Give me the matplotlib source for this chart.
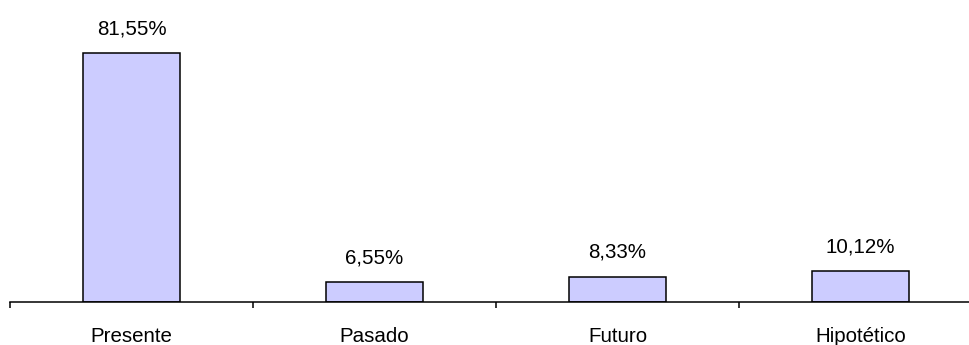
#!/usr/bin/env python3
import matplotlib.pyplot as plt
import numpy as np

categories = ['Presente', 'Pasado', 'Futuro', 'Hipotético']
values = [81.55, 6.55, 8.33, 10.12]
labels = ['81,55%', '6,55%', '8,33%', '10,12%']


def main():
    plt.rcParams['font.family'] = ['Liberation Sans', 'DejaVu Sans']
    fig = plt.figure(figsize=(9.7, 3.45), dpi=100)
    # axes: left edge at x=10px, baseline at y=302px
    ax = fig.add_axes([10 / 970, 43 / 345, 959 / 970, 275 / 345])

    x = np.arange(len(categories))
    ax.bar(x, values, width=0.4, color='#ccccff', edgecolor='black', linewidth=1.1)

    for xi, v, lab in zip(x, values, labels):
        ax.annotate(lab, (xi, v), xytext=(0, 10.5), textcoords='offset points',
                    ha='center', va='bottom', fontsize=14.8)

    ax.set_xlim(-0.5, -0.5 + 959 / 243)
    ax.set_ylim(0, 275 / 3.053)

    for s in ['top', 'right', 'left']:
        ax.spines[s].set_visible(False)
    ax.spines['bottom'].set_linewidth(1.1)
    ax.set_yticks([])

    ax.set_xticks(x)
    ax.set_xticklabels(categories, fontsize=14.8)
    ax.tick_params(axis='x', which='major', length=0, pad=18)
    ax.set_xticks(np.arange(len(categories)) - 0.5, minor=True)
    ax.tick_params(axis='x', which='minor', length=4, width=1.1, direction='out')

    plt.savefig('out.png', dpi=100)


if __name__ == '__main__':
    main()
